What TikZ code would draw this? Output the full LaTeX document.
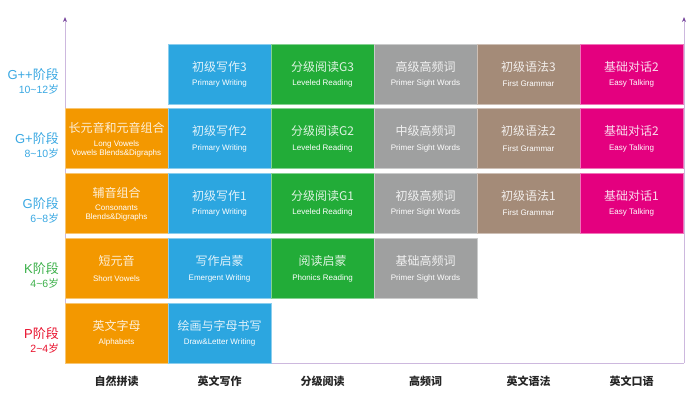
\documentclass[tikz,border=0pt]{standalone}
\usepackage{fontspec}
\setmainfont{Liberation Sans}
\newfontfamily\cjk{Noto Sans CJK SC}
\usepackage{tikz}
\usepackage{xcolor}
\usetikzlibrary{arrows.meta, positioning, calc}

\definecolor{phonicsorange}{HTML}{F39800}
\definecolor{writingblue}{HTML}{2CA6E0}
\definecolor{readinggreen}{HTML}{22AC38}
\definecolor{sightgray}{HTML}{9FA0A0}
\definecolor{grammarbrown}{HTML}{A48B78}
\definecolor{talkingpink}{HTML}{E4007F}
\definecolor{stageblue}{HTML}{3AA8E2}
\definecolor{stagegreen}{HTML}{3CB04A}
\definecolor{stagered}{HTML}{E8112D}
\definecolor{axislight}{HTML}{CDB8DE}
\definecolor{axisdark}{HTML}{7A4A9E}

\tikzset{
  cellbox/.style={minimum width=103pt, minimum height=60pt, inner sep=0pt, draw=white!45!#1, line width=0.7pt, fill=#1},
  zhtext/.style={font=\cjk\fontsize{12}{12}\selectfont, text=white, text opacity=0.85, inner sep=0pt},
  entext/.style={font=\fontsize{8}{9.3}\selectfont, text=white, align=center, inner sep=0pt},
  stagename/.style={font=\fontsize{13}{13}\selectfont, anchor=east, inner sep=0pt},
  stageage/.style={font=\fontsize{10.5}{10.5}\selectfont, anchor=east, inner sep=0pt},
  subjectname/.style={font=\cjk\bfseries\fontsize{11}{11}\selectfont, text=black!85},
  axisline/.style={draw=axislight, line width=0.9pt}
}

\newcommand{\skillcell}[6]{%
  \node[cellbox=#4] (#1) at (#2,#3) {};
  \node[zhtext] (#1-zh) at ([yshift=-23pt]#1.north) {#5};
  \node[entext] (#1-en) at ([yshift=-40pt]#1.north) {#6};
}

\begin{document}
\begin{tikzpicture}[x=1pt, y=-1pt]
\useasboundingbox (0,0) rectangle (700,400);

% Axes
\coordinate (origin) at (65,363);
\coordinate (lefttop) at (65,17);
\coordinate (rightbottom) at (684,363);
\coordinate (righttop) at (684,17);
\draw[axisline, -{Stealth[length=5pt, width=4pt, color=axisdark]}] (origin) -- (lefttop);
\draw[axisline, -{Stealth[length=5pt, width=4pt, color=axisdark]}] (rightbottom) -- (righttop);
\draw[axisline] (origin) -- (rightbottom);

% G++ stage
\skillcell{gpp-write}{219.5}{74}{writingblue}{初级写作3}{Primary Writing}
\skillcell{gpp-read}{322.5}{74}{readinggreen}{分级阅读G3}{Leveled Reading}
\skillcell{gpp-sight}{425.5}{74}{sightgray}{高级高频词}{Primer Sight Words}
\skillcell{gpp-grammar}{528.5}{74}{grammarbrown}{初级语法3}{First Grammar}
\skillcell{gpp-talk}{631.5}{74}{talkingpink}{基础对话2}{Easy Talking}
\node[stagename, text=stageblue] (stage-gpp) at (59,75) {G++{\cjk 阶段}};
\node[stageage, text=stageblue] (age-gpp) at (59,89) {10\textasciitilde 12{\cjk 岁}};

% G+ stage
\node[cellbox=phonicsorange] (gp-phonics) at (116.5,138.5) {};
\node[zhtext] (gp-phonics-zh) at ([yshift=-20pt]gp-phonics.north) {长元音和元音组合};
\node[entext] (gp-phonics-en) at ([yshift=-40.5pt]gp-phonics.north) {Long Vowels\\Vowels Blends\&Digraphs};
\skillcell{gp-write}{219.5}{138.5}{writingblue}{初级写作2}{Primary Writing}
\skillcell{gp-read}{322.5}{138.5}{readinggreen}{分级阅读G2}{Leveled Reading}
\skillcell{gp-sight}{425.5}{138.5}{sightgray}{中级高频词}{Primer Sight Words}
\skillcell{gp-grammar}{528.5}{138.5}{grammarbrown}{初级语法2}{First Grammar}
\skillcell{gp-talk}{631.5}{138.5}{talkingpink}{基础对话2}{Easy Talking}
\node[stagename, text=stageblue] (stage-gp) at (59,139) {G+{\cjk 阶段}};
\node[stageage, text=stageblue] (age-gp) at (59,153) {8\textasciitilde 10{\cjk 岁}};

% G stage
\node[cellbox=phonicsorange] (g-phonics) at (116.5,203) {};
\node[zhtext] (g-phonics-zh) at ([yshift=-20pt]g-phonics.north) {辅音组合};
\node[entext] (g-phonics-en) at ([yshift=-40.5pt]g-phonics.north) {Consonants\\Blends\&Digraphs};
\skillcell{g-write}{219.5}{203}{writingblue}{初级写作1}{Primary Writing}
\skillcell{g-read}{322.5}{203}{readinggreen}{分级阅读G1}{Leveled Reading}
\skillcell{g-sight}{425.5}{203}{sightgray}{初级高频词}{Primer Sight Words}
\skillcell{g-grammar}{528.5}{203}{grammarbrown}{初级语法1}{First Grammar}
\skillcell{g-talk}{631.5}{203}{talkingpink}{基础对话1}{Easy Talking}
\node[stagename, text=stageblue] (stage-g) at (59,204) {G{\cjk 阶段}};
\node[stageage, text=stageblue] (age-g) at (59,218) {6\textasciitilde 8{\cjk 岁}};

% K stage
\skillcell{k-phonics}{116.5}{268.5}{phonicsorange}{短元音}{Short Vowels}
\skillcell{k-write}{219.5}{268.5}{writingblue}{写作启蒙}{Emergent Writing}
\skillcell{k-read}{322.5}{268.5}{readinggreen}{阅读启蒙}{Phonics Reading}
\skillcell{k-sight}{425.5}{268.5}{sightgray}{基础高频词}{Primer Sight Words}
\node[stagename, text=stagegreen] (stage-k) at (59,269) {K{\cjk 阶段}};
\node[stageage, text=stagegreen] (age-k) at (59,283) {4\textasciitilde 6{\cjk 岁}};

% P stage
\skillcell{p-phonics}{116.5}{333}{phonicsorange}{英文字母}{Alphabets}
\skillcell{p-write}{219.5}{333}{writingblue}{绘画与字母书写}{Draw\&Letter Writing}
\node[stagename, text=stagered] (stage-p) at (59,334) {P{\cjk 阶段}};
\node[stageage, text=stagered] (age-p) at (59,348) {2\textasciitilde 4{\cjk 岁}};

% Subjects
\node[subjectname] (subj-phonics) at (116.5,381) {自然拼读};
\node[subjectname] (subj-write) at (219.5,381) {英文写作};
\node[subjectname] (subj-read) at (322.5,381) {分级阅读};
\node[subjectname] (subj-sight) at (425.5,381) {高频词};
\node[subjectname] (subj-grammar) at (528.5,381) {英文语法};
\node[subjectname] (subj-talk) at (631.5,381) {英文口语};
\end{tikzpicture}
\end{document}
